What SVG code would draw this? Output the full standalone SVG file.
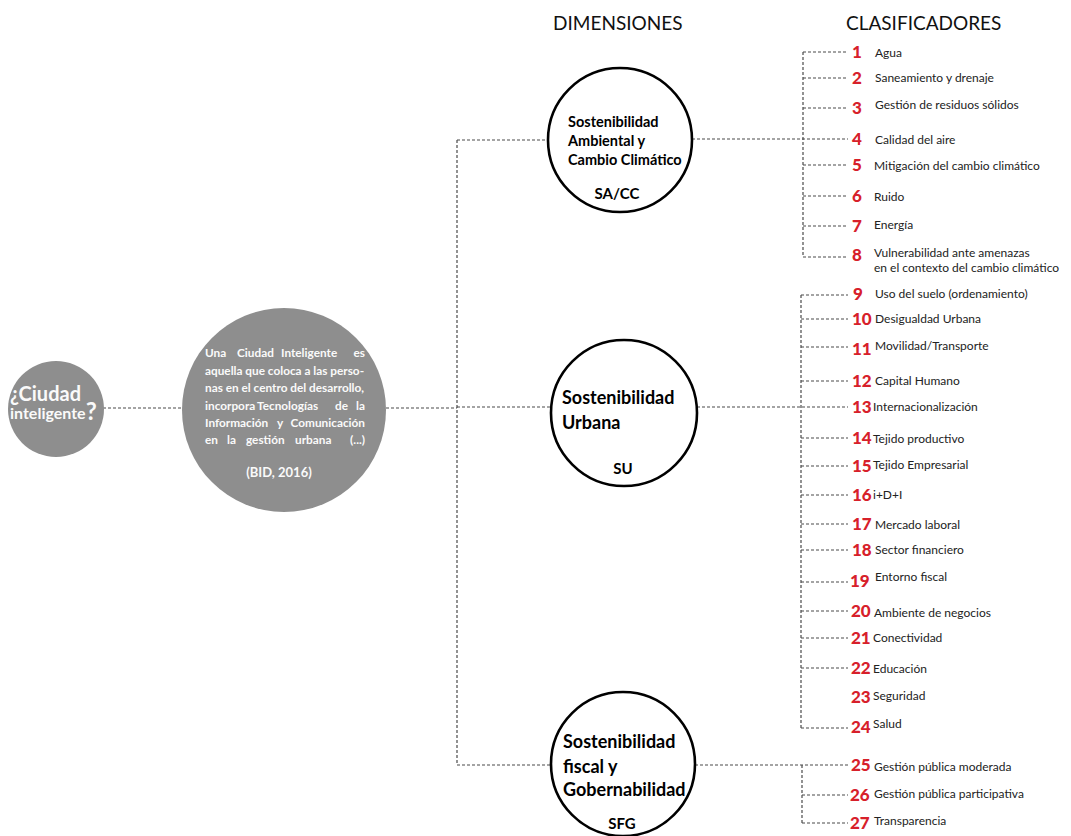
<svg xmlns="http://www.w3.org/2000/svg" width="1071" height="836" viewBox="0 0 1071 836">
<style>
.dash{stroke:#4a4a4a;stroke-width:1.2;stroke-dasharray:3 2;fill:none}
.dim{fill:#fff;stroke:#000;stroke-width:2.6}
.gray{fill:#8e8e8e}
.hdr{font-family:Lato,"Liberation Sans",sans-serif;font-size:19px;fill:#111}
.num{font-family:Lato,"Liberation Sans",sans-serif;font-weight:900;font-size:17px;fill:#d7202a}
.lab{font-family:Lato,"Liberation Sans",sans-serif;font-size:12px;fill:#222}
.dt{font-family:Lato,"Liberation Sans",sans-serif;font-weight:bold;fill:#000}
.wt{font-family:Lato,"Liberation Sans",sans-serif;font-weight:bold;fill:#fafafa}
</style>
<rect width="1071" height="836" fill="#fff"/>
<g id="connectors">
<path class="dash" d="M103 408H182 M386 408H457 M457 140V765 M457 140H548 M457 407H550 M457 765H551"/>
<path class="dash" d="M692 139H848 M697 407H848 M695 765H848"/>
<path class="dash" d="M803 52V257 M803 52H848 M803 78H848 M803 108H848 M803 165H848 M803 196H848 M803 226H848 M803 257H848"/>
<path class="dash" d="M801 295V728 M801 295H848 M801 319H848 M801 347H848 M801 381H848 M801 438H848 M801 466H848 M801 495H848 M801 524H848 M801 550H848 M801 582H848 M801 611H848 M801 638H848 M801 668H848 M801 728H848"/>
<path class="dash" d="M802 765V823 M802 795H848 M802 823H848"/>
</g>
<g id="headers">
<text class="hdr" x="553" y="30">DIMENSIONES</text>
<text class="hdr" x="846" y="30">CLASIFICADORES</text>
</g>
<g id="node-ciudad">
<circle class="gray" cx="56" cy="409" r="48"/>
<text class="wt" x="10" y="401" font-size="20">¿Ciudad</text>
<text class="wt" x="10" y="419" font-size="16">inteligente<tspan font-size="24" dy="1">?</tspan></text>
</g>
<g id="node-definicion">
<circle class="gray" cx="284" cy="410" r="102"/>
<g font-size="11.8">
<text class="wt" y="357"><tspan x="205">Una</tspan><tspan x="237">Ciudad</tspan><tspan x="281">Inteligente</tspan><tspan x="365" text-anchor="end">es</tspan></text>
<text class="wt" x="205" y="374.5">aquella que coloca a las perso-</text>
<text class="wt" x="205" y="392">nas en el centro del desarrollo,</text>
<text class="wt" y="409.5"><tspan x="205">incorpora</tspan><tspan x="257">Tecnologías</tspan><tspan x="335">de</tspan><tspan x="365" text-anchor="end">la</tspan></text>
<text class="wt" y="427"><tspan x="205">Información</tspan><tspan x="277">y</tspan><tspan x="365" text-anchor="end">Comunicación</tspan></text>
<text class="wt" y="444"><tspan x="205">en</tspan><tspan x="227">la</tspan><tspan x="246">gestión</tspan><tspan x="295">urbana</tspan><tspan x="365" text-anchor="end">(...)</tspan></text>
<text class="wt" x="279" y="477" text-anchor="middle" font-size="13">(BID, 2016)</text>
</g>
</g>
<g id="node-sacc">
<circle class="dim" cx="620" cy="140" r="72"/>
<text class="dt" x="568" y="127" font-size="14.5">Sostenibilidad</text>
<text class="dt" x="568" y="146" font-size="14.5">Ambiental y</text>
<text class="dt" x="568" y="165" font-size="14.5">Cambio  Climático</text>
<text class="dt" x="617" y="199" font-size="15" text-anchor="middle">SA/CC</text>
</g>
<g id="node-su">
<circle class="dim" cx="624" cy="413" r="73"/>
<text class="dt" x="562" y="404" font-size="18">Sostenibilidad</text>
<text class="dt" x="562" y="429" font-size="18">Urbana</text>
<text class="dt" x="623" y="474" font-size="15" text-anchor="middle">SU</text>
</g>
<g id="node-sfg">
<circle class="dim" cx="623" cy="764" r="72"/>
<text class="dt" x="563" y="748" font-size="18">Sostenibilidad</text>
<text class="dt" x="563" y="773" font-size="18">fiscal y</text>
<text class="dt" x="563" y="796" font-size="18">Gobernabilidad</text>
<text class="dt" x="622" y="829" font-size="15" text-anchor="middle">SFG</text>
</g>
<g id="clasificadores">
<g id="c1"><text class="num" x="852" y="58">1</text><text class="lab" x="875" y="57">Agua</text></g>
<g id="c2"><text class="num" x="852" y="84">2</text><text class="lab" x="875" y="82">Saneamiento y drenaje</text></g>
<g id="c3"><text class="num" x="852" y="114">3</text><text class="lab" x="875" y="109">Gestión de residuos sólidos</text></g>
<g id="c4"><text class="num" x="852" y="145">4</text><text class="lab" x="875" y="144">Calidad del aire</text></g>
<g id="c5"><text class="num" x="852" y="171">5</text><text class="lab" x="874" y="170">Mitigación del cambio climático</text></g>
<g id="c6"><text class="num" x="852" y="202">6</text><text class="lab" x="874" y="201">Ruido</text></g>
<g id="c7"><text class="num" x="852" y="232">7</text><text class="lab" x="874" y="229">Energía</text></g>
<g id="c8"><text class="num" x="852" y="261">8</text><text class="lab" x="874" y="257">Vulnerabilidad ante amenazas</text><text class="lab" x="874" y="272">en el contexto del cambio climático</text></g>
<g id="c9"><text class="num" x="853" y="300">9</text><text class="lab" x="875" y="298">Uso del suelo (ordenamiento)</text></g>
<g id="c10"><text class="num" x="852" y="325">10</text><text class="lab" x="875" y="323">Desigualdad Urbana</text></g>
<g id="c11"><text class="num" x="852" y="355">11</text><text class="lab" x="875" y="350">Movilidad/Transporte</text></g>
<g id="c12"><text class="num" x="852" y="387">12</text><text class="lab" x="875" y="385">Capital Humano</text></g>
<g id="c13"><text class="num" x="852" y="413">13</text><text class="lab" x="873" y="411">Internacionalización</text></g>
<g id="c14"><text class="num" x="852" y="444">14</text><text class="lab" x="873" y="443">Tejido productivo</text></g>
<g id="c15"><text class="num" x="852" y="472">15</text><text class="lab" x="873" y="469">Tejido Empresarial</text></g>
<g id="c16"><text class="num" x="852" y="501">16</text><text class="lab" x="873" y="499">i+D+I</text></g>
<g id="c17"><text class="num" x="852" y="530">17</text><text class="lab" x="875" y="529">Mercado laboral</text></g>
<g id="c18"><text class="num" x="852" y="556">18</text><text class="lab" x="875" y="554">Sector financiero</text></g>
<g id="c19"><text class="num" x="850" y="587">19</text><text class="lab" x="875" y="581">Entorno fiscal</text></g>
<g id="c20"><text class="num" x="851" y="617">20</text><text class="lab" x="874" y="617">Ambiente de negocios</text></g>
<g id="c21"><text class="num" x="851" y="644">21</text><text class="lab" x="873" y="642">Conectividad</text></g>
<g id="c22"><text class="num" x="851" y="674">22</text><text class="lab" x="873" y="673">Educación</text></g>
<g id="c23"><text class="num" x="851" y="703">23</text><text class="lab" x="873" y="700">Seguridad</text></g>
<g id="c24"><text class="num" x="851" y="733">24</text><text class="lab" x="873" y="728">Salud</text></g>
<g id="c25"><text class="num" x="851" y="771">25</text><text class="lab" x="874" y="771">Gestión pública moderada</text></g>
<g id="c26"><text class="num" x="850" y="801">26</text><text class="lab" x="874" y="798">Gestión pública participativa</text></g>
<g id="c27"><text class="num" x="850" y="829">27</text><text class="lab" x="874" y="825">Transparencia</text></g>
</g>
</svg>
